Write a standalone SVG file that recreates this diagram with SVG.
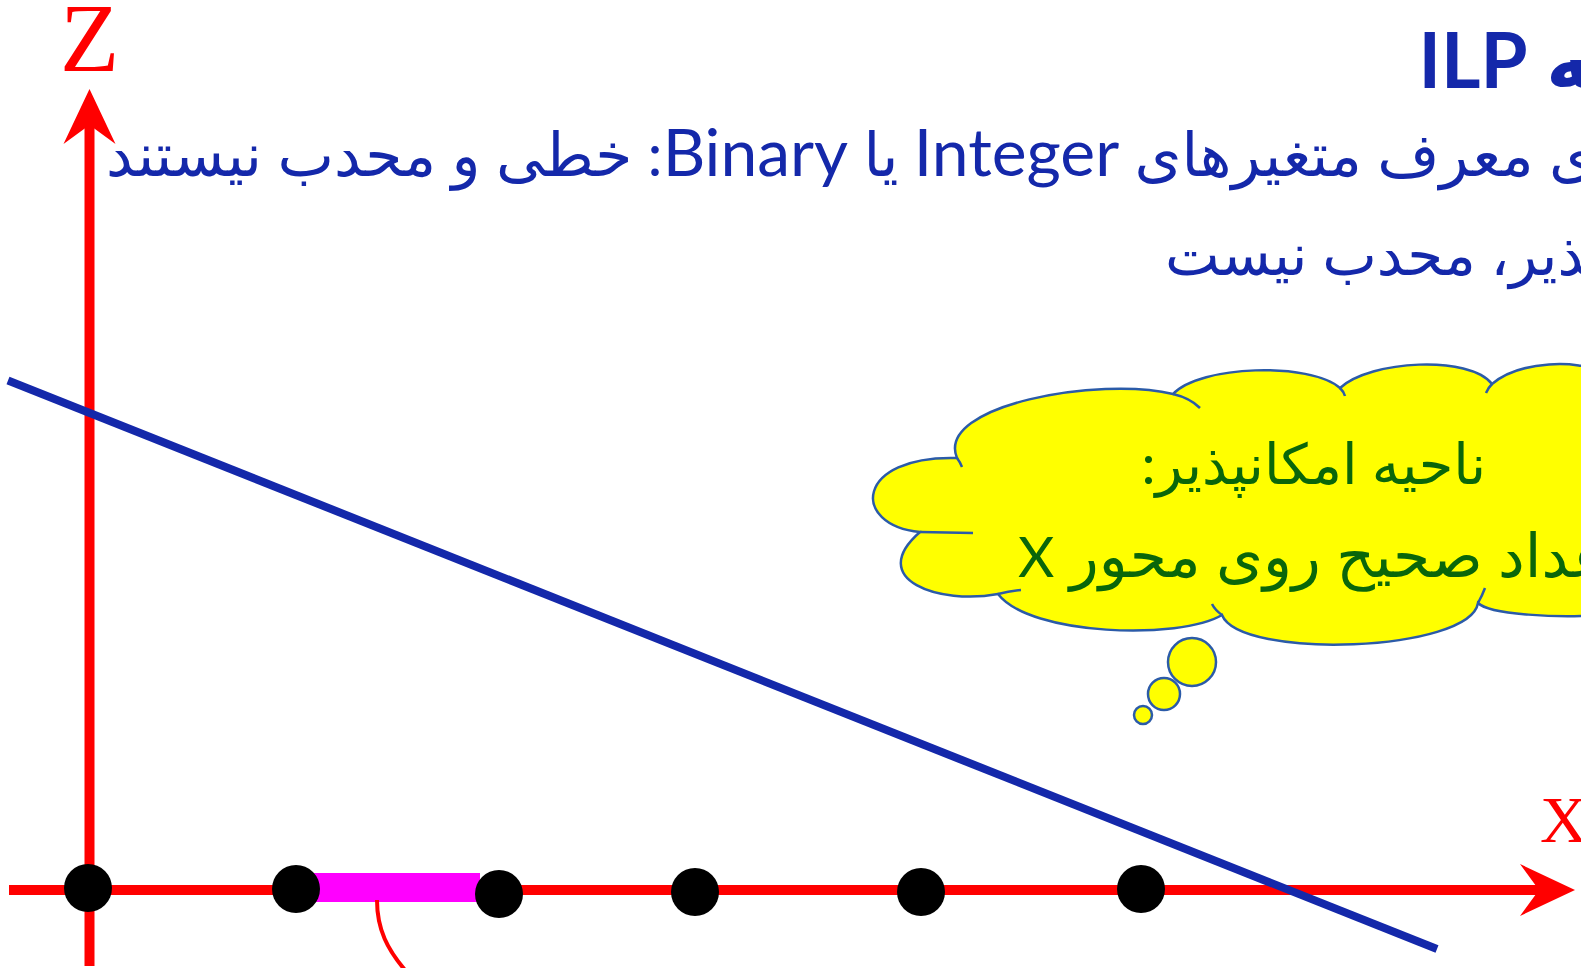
<svg xmlns="http://www.w3.org/2000/svg" width="1581" height="968" viewBox="0 0 1581 968">
<style>
.fa { font-family: Lato, "DejaVu Sans", sans-serif; }
.lat { font-size: 66px; }
.blue { fill: #1428AA; }
.green { fill: #0A660A; }
.axis { stroke: #FF0000; stroke-width: 10; fill: none; }
.lbl { font-family: "Liberation Serif", serif; fill: #FF0000; }
.cloud { fill: #FFFF00; stroke: #2B5BA8; stroke-width: 2.5; }
.hook { fill: none; stroke: #2B5BA8; stroke-width: 2.5; }
.dot { fill: #000000; }
</style>
<defs>
<marker id="arr" markerUnits="userSpaceOnUse" markerWidth="56" markerHeight="52" refX="19" refY="26" orient="auto" overflow="visible">
<path d="M55,26 L0,0 L19,26 L0,52 Z" fill="#FF0000"/>
</marker>
</defs>
<rect width="1581" height="968" fill="#FFFFFF"/>
<g id="title">
<text class="fa blue" x="1618" y="88" font-size="76" font-weight="bold" direction="rtl" text-anchor="start">ـه ILP</text>
</g>
<g id="line2">
<text class="fa blue" x="106" y="176" font-size="60" direction="rtl" text-anchor="end">ی معرف متغیرهای <tspan class="lat">Integer</tspan> یا <tspan class="lat">Binary</tspan>: خطی و محدب نیستند</text>
</g>
<g id="line3">
<text class="fa blue" x="1165" y="275" font-size="58" direction="rtl" text-anchor="end">ـپذیر، محدب نیست</text>
</g>
<g id="connectors">
<line class="axis" x1="89.5" y1="966" x2="89.5" y2="125" marker-end="url(#arr)"/>
<line class="axis" x1="9" y1="890" x2="1539" y2="890" marker-end="url(#arr)"/>
<rect x="314" y="873" width="166" height="29" fill="#FF00FF"/>
<path d="M377,900 C377,930 388,950 405,970" fill="none" stroke="#FF0000" stroke-width="4"/>
<line x1="8" y1="380.5" x2="1437" y2="949" stroke="#1428AA" stroke-width="8"/>
</g>
<g id="labels">
<text class="lbl" x="60" y="71" font-size="97">Z</text>
<text class="lbl" x="1540" y="842" font-size="66">X</text>
</g>
<g id="points">
<circle class="dot" cx="88" cy="888" r="24"/>
<circle class="dot" cx="296" cy="889" r="24"/>
<circle class="dot" cx="499" cy="894" r="24"/>
<circle class="dot" cx="695" cy="892" r="24"/>
<circle class="dot" cx="921" cy="892" r="24"/>
<circle class="dot" cx="1141" cy="889" r="24"/>
</g>
<g id="cloud">
<path class="cloud" d="M957,458 C935,405 1100,376 1173,394 C1200,365 1310,362 1340,388 C1370,360 1470,355 1492,384 C1520,360 1580,360 1600,372 L1600,615 C1560,618 1490,615 1478,603 C1470,652 1240,660 1222,615 C1180,640 1030,636 998,594 C940,605 865,580 920,532 C850,525 855,455 957,458 Z"/>
<path class="hook" d="M1173,394 Q1190,398 1200,408 M1340,388 Q1344,392 1345,396 M1492,384 Q1488,388 1486,393 M957,458 Q960,462 962,467 M920,532 L973,533 M998,594 Q1010,591 1021,590 M1222,615 Q1215,610 1212,604 M1478,603 Q1482,596 1485,588"/>
<ellipse class="cloud" cx="1192" cy="662" rx="24" ry="24"/>
<ellipse class="cloud" cx="1164" cy="694" rx="16" ry="16"/>
<ellipse class="cloud" cx="1143" cy="715" rx="9" ry="9"/>
<text class="fa green" x="1486" y="484" font-size="56" direction="rtl" text-anchor="start">ناحیه امکانپذیر:</text>
<text class="fa green" x="1018" y="577" font-size="60" direction="rtl" text-anchor="end">عداد صحیح روی محور <tspan font-size="56">X</tspan></text>
</g>
</svg>
